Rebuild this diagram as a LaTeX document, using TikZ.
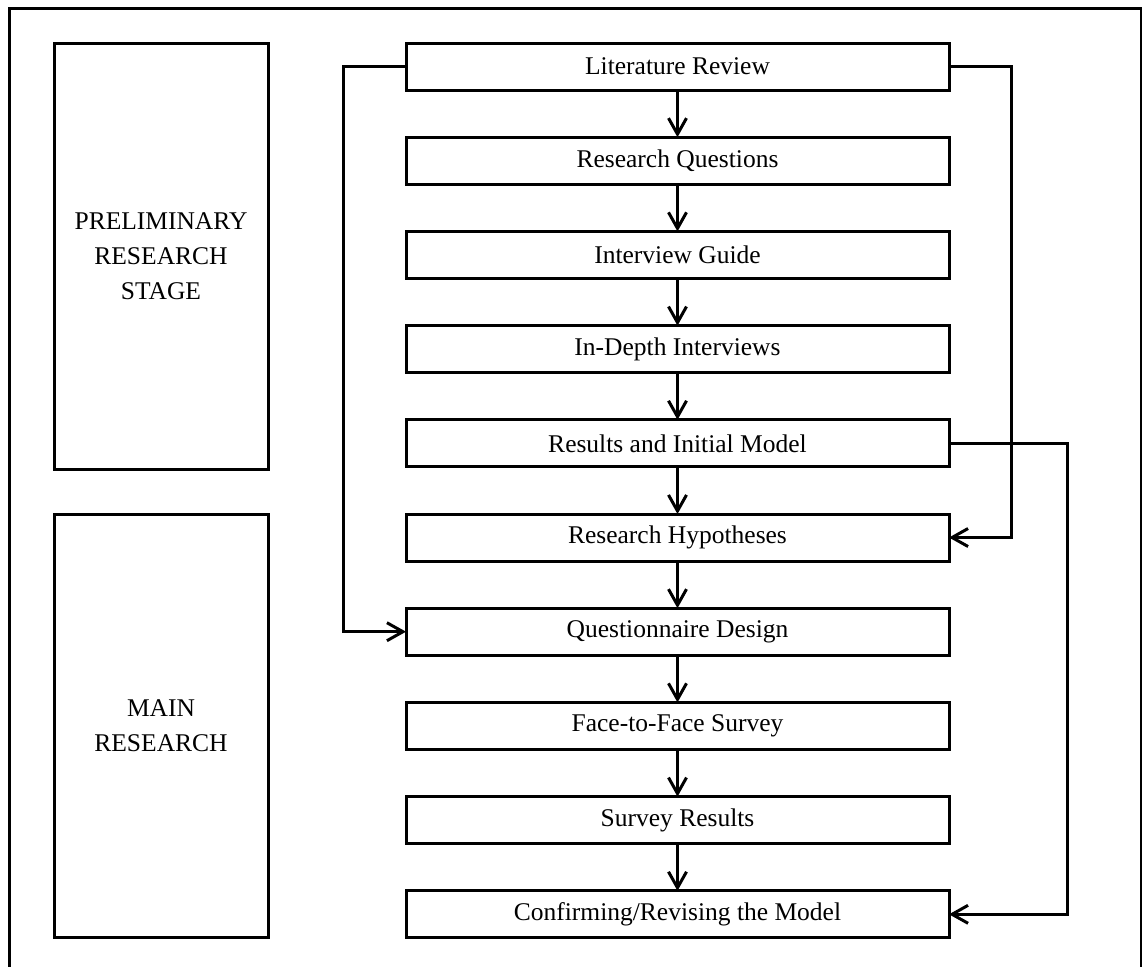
\documentclass[tikz,border=0pt]{standalone}
\usepackage{fontspec}
\setmainfont{Liberation Serif}
\usetikzlibrary{arrows.meta}
\begin{document}
\begin{tikzpicture}[x=0.5pt,y=-0.5pt,
  line width=1.5pt,
  flowbox/.style={draw, rectangle, minimum width=271.5pt, minimum height=23.5pt, inner sep=0pt, outer sep=0pt,
    font=\fontsize{12.75}{17.5}\selectfont},
  stagebox/.style={draw, rectangle, minimum width=107pt, inner sep=0pt, outer sep=0pt, align=center,
    font=\fontsize{12.75}{17.5}\selectfont},
  flowarrow/.style={-{Straight Barb[length=8pt 0, width=9pt 0]}, line width=1.5pt},
]
\useasboundingbox (0,0) rectangle (1142,966);
\clip (0,0) rectangle (1142,966);
% outer frame
\draw (9,8) rectangle (1141,980);
% stage boxes
\node[stagebox, minimum height=213pt] (prelim) at (161,256) {PRELIMINARY\\RESEARCH\\STAGE};
\node[stagebox, minimum height=211.5pt] (mainres) at (161,725.5) {MAIN\\RESEARCH};
% flow boxes
\node[flowbox] (lit) at (677.5,66.5) {Literature Review};
\node[flowbox] (rq) at (677.5,160.7) {Research Questions};
\node[flowbox] (ig) at (677.5,254.9) {Interview Guide};
\node[flowbox] (idi) at (677.5,349.1) {In-Depth Interviews};
\node[flowbox] (res) at (677.5,443.3) {Results and Initial Model};
\node[flowbox] (hyp) at (677.5,537.5) {Research Hypotheses};
\node[flowbox] (qd) at (677.5,631.7) {Questionnaire Design};
\node[flowbox] (f2f) at (677.5,725.9) {Face-to-Face Survey};
\node[flowbox] (sr) at (677.5,820.1) {Survey Results};
\node[flowbox] (conf) at (677.5,914.3) {Confirming/Revising the Model};
% vertical arrows
\foreach \a/\b in {lit/rq, rq/ig, ig/idi, idi/res, res/hyp, hyp/qd, qd/f2f, f2f/sr, sr/conf}
  \draw[flowarrow] (\a.south) -- (\b.north);
% side connectors
\draw[flowarrow] (lit.west) -| (343,600) |- (qd.west);
\draw[flowarrow] (lit.east) -| (1011,500) |- (hyp.east);
\draw[flowarrow] (res.east) -| (1067,700) |- (conf.east);
\end{tikzpicture}
\end{document}
